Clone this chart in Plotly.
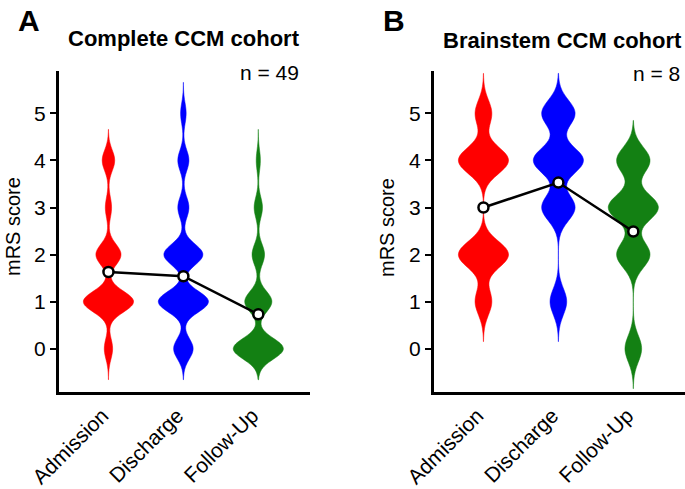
import plotly.graph_objects as go

categories = ["Admission", "Discharge", "Follow-Up"]
scores = [0, 1, 2, 3, 4, 5]

# counts of patients per mRS score (0..5)
counts_A = {
    "Admission": [4, 24, 12, 3, 6, 0],
    "Discharge": [7, 18, 14, 4, 4, 2],
    "Follow-Up": [24, 13, 6, 4, 2, 0],
}
counts_B = {
    "Admission": [0, 1, 3, 0, 3, 1],
    "Discharge": [0, 1, 0, 2, 3, 2],
    "Follow-Up": [1, 0, 2, 3, 2, 0],
}
# mean markers as drawn in the chart
means_A = [1.63, 1.54, 0.73]
means_B = [3.00, 3.53, 2.49]

colors = ["#FF0000", "#0000FF", "#138013"]
FONT = "Liberation Sans, Arial, sans-serif"

W, H = 685, 489
fig = go.Figure()


def expand(cnts):
    vals = []
    for s, c in zip(scores, cnts):
        vals += [s] * c
    return vals


panels = [
    ("x", "y", counts_A, means_A, 0.22, 0.66),
    ("x2", "y2", counts_B, means_B, 0.28, 0.85),
]
for xa, ya, counts, means, bw, ext in panels:
    for cat, col in zip(categories, colors):
        vals = expand(counts[cat])
        fig.add_trace(go.Violin(
            x=[cat] * len(vals), y=vals, xaxis=xa, yaxis=ya,
            fillcolor=col, line=dict(color=col, width=0.5),
            bandwidth=bw, spanmode="manual",
            span=[min(vals) - ext, max(vals) + ext], width=0.67,
            points=False, box_visible=False, meanline_visible=False,
            hoverinfo="skip", showlegend=False, opacity=1,
        ))
    fig.add_trace(go.Scatter(
        x=categories, y=means, xaxis=xa, yaxis=ya, mode="lines+markers",
        line=dict(color="black", width=2.5),
        marker=dict(size=10, color="white", line=dict(color="black", width=2.5)),
        showlegend=False, hoverinfo="skip",
    ))

ydom = [(H - 392) / H, (H - 71) / H]
xaxis_common = dict(
    showline=True, linewidth=3, linecolor="black", ticks="", tickangle=-45,
    tickfont=dict(family=FONT, size=21, color="black"), range=[-0.66, 2.69],
    ticklabelshift=-6,
    showgrid=False, zeroline=False, fixedrange=True, automargin=False,
)
yaxis_common = dict(
    showline=True, linewidth=3, linecolor="black", ticks="outside", ticklen=6,
    tickwidth=2, tickcolor="black", tickvals=[0, 1, 2, 3, 4, 5],
    tickfont=dict(family=FONT, size=21, color="black"), range=[-0.92, 5.90],
    showgrid=False, zeroline=False, domain=ydom, automargin=False,
)
fig.update_layout(
    width=W, height=H, margin=dict(l=0, r=0, t=0, b=0, autoexpand=False),
    plot_bgcolor="white", paper_bgcolor="white",
    xaxis=dict(xaxis_common, domain=[59 / W, 310 / W], anchor="y"),
    yaxis=dict(yaxis_common, anchor="x"),
    xaxis2=dict(xaxis_common, domain=[434 / W, 1.0], anchor="y2"),
    yaxis2=dict(yaxis_common, anchor="x2"),
    violingap=0, violinmode="overlay",
)

ann = []
def paper(px, py):
    return px / W, 1 - py / H

for (lx, ly, txt, size, bold, xanchor, angle) in [
    (29, 21, "A", 30, True, "center", 0),
    (394, 20, "B", 30, True, "center", 0),
    (184, 39, "Complete CCM cohort", 22, True, "center", 0),
    (562, 40, "Brainstem CCM cohort", 22, True, "center", 0),
    (301, 72, "n = 49", 21, False, "right", 0),
    (682, 73, "n = 8", 21, False, "right", 0),
    (13, 227, "mRS score", 20, False, "center", -90),
    (387, 227, "mRS score", 20, False, "center", -90),
]:
    x, y = paper(lx, ly)
    ann.append(dict(
        x=x, y=y, xref="paper", yref="paper", showarrow=False,
        text=f"<b>{txt}</b>" if bold else txt, textangle=angle,
        xanchor=xanchor, yanchor="middle",
        font=dict(family=FONT, size=size, color="black"),
    ))
fig.update_layout(annotations=ann)

fig.write_html(
    "out.html",
    config={"displayModeBar": False},
    post_script="document.body.style.margin='0px';document.body.style.overflow='hidden';",
)
